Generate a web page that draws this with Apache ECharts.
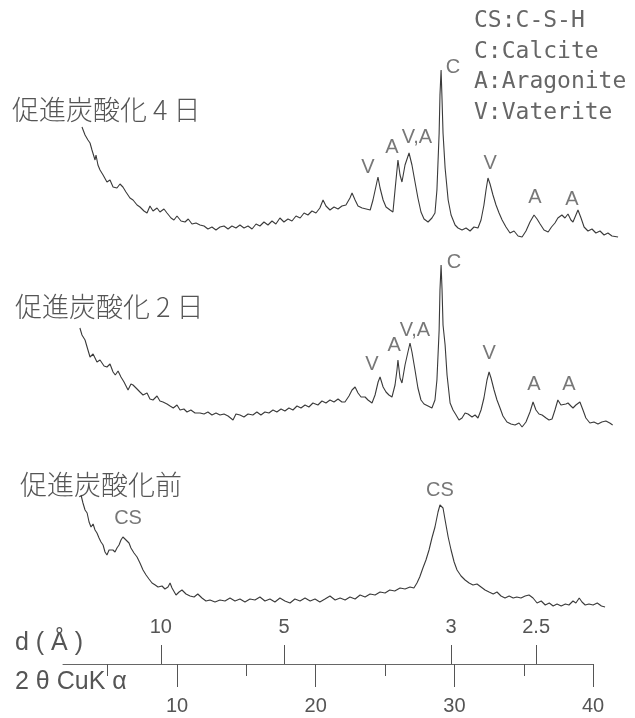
<!DOCTYPE html>
<html>
<head>
<meta charset="utf-8">
<script src="https://cdn.jsdelivr.net/npm/echarts@6/dist/echarts.min.js"></script>
<style>
html,body{margin:0;padding:0;background:#fff;}
#chart{width:635px;height:718px;}
</style>
</head>
<body>
<div id="chart"></div>
<script>
// ---- Data (2θ in degrees, intensity in arbitrary units) ----
const top2theta = [3.15,3.37,3.58,3.73,3.87,4.09,4.16,4.30,4.45,4.67,4.95,5.17,5.39,5.67,5.89,6.10,6.32,6.61,6.83,7.12,7.33,7.62,7.84,8.05,8.27,8.56,8.77,9.06,9.28,9.57,9.78,10.0,10.29,10.58,10.81,11.08,11.37,11.66,11.95,12.23,12.52,12.81,13.1,13.39,13.68,13.96,14.25,14.54,14.83,15.12,15.41,15.7,15.98,16.27,16.56,16.85,17.13,17.42,17.71,18.0,18.29,18.58,18.88,19.16,19.44,19.73,20.02,20.3,20.53,20.74,21.03,21.32,21.61,21.89,22.18,22.47,22.62,22.84,23.05,23.35,23.64,23.93,24.13,24.35,24.49,24.64,24.86,25.07,25.36,25.57,25.72,25.93,26.08,26.22,26.44,26.73,26.94,27.16,27.37,27.59,27.81,28.1,28.38,28.6,28.74,28.9,28.96,29.04,29.11,29.18,29.33,29.55,29.76,30.05,30.26,30.55,30.84,31.13,31.41,31.7,31.92,32.13,32.28,32.42,32.57,32.78,33.0,33.22,33.44,33.72,34.01,34.3,34.59,34.88,35.16,35.45,35.74,35.96,36.18,36.46,36.76,37.0,37.25,37.46,37.75,37.97,38.19,38.4,38.55,38.76,38.91,39.13,39.35,39.63,39.92,40.2,40.5,40.79,41.07,41.36,41.8];
const topCounts = [113,105,100,97,90,80,85,75,70,65,58,60,53,52,56,53,48,42,40,35,33,29,27,34,29,32,28,31,27,22,20,24,19,18,21,16,17,15,14,11,13,10,13,14,11,14,12,15,12,14,11,16,14,18,15,19,16,22,18,21,19,24,22,27,25,29,27,32,40,34,30,33,31,34,35,42,47,40,34,32,31,30,40,54,63,52,40,33,30,28,50,80,65,58,75,87,75,58,42,28,21,18,22,27,50,107,145,170,140,107,72,40,25,15,12,10,12,9,13,12,20,35,50,62,56,45,35,27,20,13,7,9,4,3,9,18,25,21,16,10,8,13,17,22,25,22,26,20,18,25,30,22,13,9,11,7,9,5,7,4,3];

const mid2theta = [3.0,3.15,3.37,3.58,3.73,3.95,4.23,4.45,4.74,4.95,5.17,5.39,5.55,5.75,5.96,6.18,6.47,6.68,6.83,7.12,7.33,7.55,7.84,8.05,8.27,8.56,8.77,8.99,9.28,9.5,9.73,10.0,10.22,10.5,10.72,11.0,11.3,11.66,11.95,12.23,12.52,12.81,13.1,13.39,13.68,14.04,14.25,14.54,14.83,15.12,15.47,15.76,16.05,16.34,16.63,16.92,17.2,17.5,17.78,18.07,18.36,18.65,18.94,19.23,19.51,19.8,20.16,20.45,20.74,21.03,21.32,21.61,21.89,22.11,22.4,22.62,22.84,23.05,23.27,23.56,23.77,24.06,24.28,24.5,24.64,24.86,25.07,25.28,25.5,25.72,25.86,25.93,26.08,26.22,26.44,26.65,26.8,26.94,27.16,27.37,27.59,27.81,28.1,28.38,28.6,28.74,28.9,28.96,29.04,29.11,29.18,29.33,29.47,29.69,29.9,30.12,30.33,30.55,30.77,30.98,31.27,31.49,31.7,31.92,32.13,32.35,32.5,32.64,32.86,33.07,33.29,33.5,33.79,34.08,34.37,34.66,34.88,35.16,35.45,35.67,35.88,36.1,36.32,36.61,36.82,37.04,37.25,37.46,37.68,37.82,38.04,38.19,38.4,38.55,38.76,39.05,39.27,39.48,39.77,40.06,40.35,40.63,40.92,41.2,41.41];
const midCounts = [102,95,90,80,73,76,68,70,64,63,66,58,55,59,53,48,40,46,45,41,38,35,37,31,30,34,29,28,26,24,22,25,20,21,18,20,17,17,16,18,15,17,15,16,14,10,16,15,13,16,15,18,15,18,17,20,18,21,19,22,20,24,22,25,23,27,25,29,27,30,28,31,28,28,34,40,43,37,33,33,30,27,35,48,53,43,38,35,33,45,60,70,52,47,65,78,87,78,60,42,30,26,24,22,30,50,100,140,165,140,105,85,55,27,20,15,10,12,17,16,13,15,12,20,32,50,58,52,40,30,22,14,8,6,5,7,3,8,18,28,20,16,15,12,10,11,20,30,25,23,26,27,24,22,25,28,20,12,7,8,6,8,9,7,5];

const bot2theta = [3.08,3.22,3.37,3.52,3.66,3.8,3.95,4.09,4.23,4.38,4.52,4.67,4.81,4.95,5.1,5.24,5.38,5.53,5.67,5.82,5.96,6.1,6.25,6.39,6.54,6.68,6.9,7.12,7.33,7.55,7.77,7.98,8.2,8.43,8.63,8.92,9.13,9.35,9.5,9.64,9.93,10.15,10.36,10.65,10.94,11.23,11.5,11.8,12.09,12.38,12.74,13.1,13.46,13.82,14.18,14.54,14.9,15.26,15.62,15.98,16.34,16.7,17.06,17.42,17.78,18.15,18.5,18.87,19.23,19.6,19.95,20.3,20.67,21.03,21.4,21.76,22.12,22.47,22.84,23.2,23.56,23.92,24.28,24.64,25.0,25.34,25.7,26.08,26.44,26.8,27.08,27.3,27.5,27.73,27.95,28.17,28.38,28.6,28.82,28.96,29.04,29.18,29.33,29.55,29.76,29.98,30.19,30.48,30.77,31.06,31.34,31.63,31.92,32.21,32.5,32.8,33.07,33.36,33.65,33.95,34.24,34.5,34.8,35.1,35.38,35.67,35.96,36.26,36.55,36.84,37.12,37.4,37.7,38.0,38.26,38.55,38.76,39.0,39.2,39.43,39.7,40.0,40.3,40.6,40.86];
const botCounts = [115,107,100,97,88,83,86,80,77,72,68,65,58,55,60,62,60,58,62,65,70,73,71,69,67,62,57,53,47,40,35,31,27,25,23,24,21,23,27,22,15,18,20,16,14,13,16,12,9,10,8,10,9,12,9,11,8,11,10,13,9,11,8,12,9,7,11,9,12,9,11,8,11,14,10,12,10,13,11,15,13,16,15,18,17,20,19,22,21,23,22,27,33,42,50,60,72,83,98,105,107,102,90,73,60,48,40,34,30,27,25,26,23,20,18,16,18,14,12,14,12,13,12,14,15,12,7,9,5,7,4,6,4,6,5,9,7,12,8,5,6,5,7,4,3];

// peak identification labels: [2θ, height] (height in same units as the plotted stack)
const topPeaks = [['V',23.77,551],['A',25.5,571],['V,A',27.3,581],['C',29.9,651],['V',32.57,555],['A',35.81,521],['A',38.48,519]];
const midPeaks = [['V',24.06,354],['A',25.65,373],['V,A',27.15,388],['C',29.97,456],['V',32.5,365],['A',35.74,334],['A',38.26,334]];
const botPeaks = [['CS',6.47,200],['CS',28.96,228]];

const twoThetaTicks = [10,20,30,40];
const twoThetaMinor = [5,15,25,35];
const dTicks = [10,5,3,2.5];
const legendLines = ['CS:C-S-H','C:Calcite','A:Aragonite','V:Vaterite'];
const traceTitles = ['促進炭酸化 4 日','促進炭酸化 2 日','促進炭酸化前'];

// ---- layout ----
const OFFSET = {top:478, mid:288, bot:108};
const LAMBDA = 1.5406; // Cu Kα (Å)
const dPos = dTicks.map(d => 2*Math.asin(LAMBDA/(2*d))*180/Math.PI);

const PX0 = 38.3, PXD = 13.87; // pixel of 2θ=0, px per degree
const tMin = 2, tMax = 42;
const aMin = 1.78, aMax = 40;

function stack(xs, ys, off){ return xs.map((t,i)=>[t, off+ys[i]]); }
function peakData(arr){ return arr.map(p=>({name:p[0], value:[p[1],p[2]]})); }

const chart = echarts.init(document.getElementById('chart'), null, {renderer:'canvas'});
const lineColor = '#3a3a3a';
const txtColor = '#555';

const peakLabel = {
  show:true, position:'inside', formatter:'{b}',
  fontFamily:'Liberation Sans', fontSize:20, color:txtColor
};

const option = {
  backgroundColor:'#fff',
  animation:false,
  grid:[
    {left:PX0+tMin*PXD, width:(tMax-tMin)*PXD, top:0, height:718, containLabel:false},
    {left:PX0+aMin*PXD, width:(aMax-aMin)*PXD, top:600, height:64, containLabel:false}
  ],
  xAxis:[
    {gridIndex:0, type:'value', min:tMin, max:tMax, show:false},
    {gridIndex:1, type:'value', min:aMin, max:aMax, position:'bottom', offset:0,
     axisLine:{show:true, lineStyle:{color:'#666', width:1}},
     axisTick:{show:true, customValues:twoThetaTicks, length:23, lineStyle:{color:'#555'}},
     axisLabel:{show:true, customValues:twoThetaTicks, margin:32, fontSize:20, fontFamily:'Liberation Sans', color:txtColor},
     splitLine:{show:false}},
    {gridIndex:1, type:'value', min:aMin, max:aMax, position:'bottom', offset:0,
     axisLine:{show:false},
     axisTick:{show:true, customValues:twoThetaMinor, length:12, lineStyle:{color:'#555'}},
     axisLabel:{show:false},
     splitLine:{show:false}},
    {gridIndex:1, type:'value', min:aMin, max:aMax, position:'bottom', offset:0,
     axisLine:{show:false},
     axisTick:{show:true, inside:true, customValues:dPos, length:19, lineStyle:{color:'#555'}},
     axisLabel:{show:true, inside:true, customValues:dPos, margin:27, fontSize:20, fontFamily:'Liberation Sans', color:txtColor,
       formatter:function(v){
         let best=0; for(let i=1;i<dPos.length;i++){ if(Math.abs(dPos[i]-v)<Math.abs(dPos[best]-v)) best=i; }
         return String(dTicks[best]);
       }},
     splitLine:{show:false}}
  ],
  yAxis:[
    {gridIndex:0, type:'value', min:0, max:718, show:false},
    {gridIndex:1, type:'value', min:0, max:1, show:false}
  ],
  series:[
    {type:'line', xAxisIndex:0, yAxisIndex:0, data:stack(top2theta, topCounts, OFFSET.top), showSymbol:false, lineStyle:{color:lineColor, width:1.1}, silent:true},
    {type:'line', xAxisIndex:0, yAxisIndex:0, data:stack(mid2theta, midCounts, OFFSET.mid), showSymbol:false, lineStyle:{color:lineColor, width:1.1}, silent:true},
    {type:'line', xAxisIndex:0, yAxisIndex:0, data:stack(bot2theta, botCounts, OFFSET.bot), showSymbol:false, lineStyle:{color:lineColor, width:1.1}, silent:true},
    {type:'scatter', xAxisIndex:0, yAxisIndex:0, symbolSize:0, data:peakData(topPeaks), label:peakLabel, silent:true},
    {type:'scatter', xAxisIndex:0, yAxisIndex:0, symbolSize:0, data:peakData(midPeaks), label:peakLabel, silent:true},
    {type:'scatter', xAxisIndex:0, yAxisIndex:0, symbolSize:0, data:peakData(botPeaks), label:peakLabel, silent:true}
  ],
  graphic:[
    {type:'text', left:12, top:96, style:{text:traceTitles[0], font:'300 27px "Noto Sans CJK JP"', fill:txtColor}},
    {type:'text', left:15, top:293, style:{text:traceTitles[1], font:'300 27px "Noto Sans CJK JP"', fill:txtColor}},
    {type:'text', left:20, top:471, style:{text:traceTitles[2], font:'300 27px "Noto Sans CJK JP"', fill:txtColor}},
    ...legendLines.map((t,i)=>({type:'text', left:474, top:10+i*30.5, style:{text:t, font:'23px "DejaVu Sans Mono"', fill:'#666'}})),
    {type:'text', left:15, top:631, style:{text:'d ( Å )', font:'25px "Liberation Sans"', fill:txtColor}},
    {type:'text', left:15, top:670, style:{text:'2 θ CuK α', font:'25px "Liberation Sans"', fill:txtColor}}
  ]
};
chart.setOption(option);
</script>
</body>
</html>
